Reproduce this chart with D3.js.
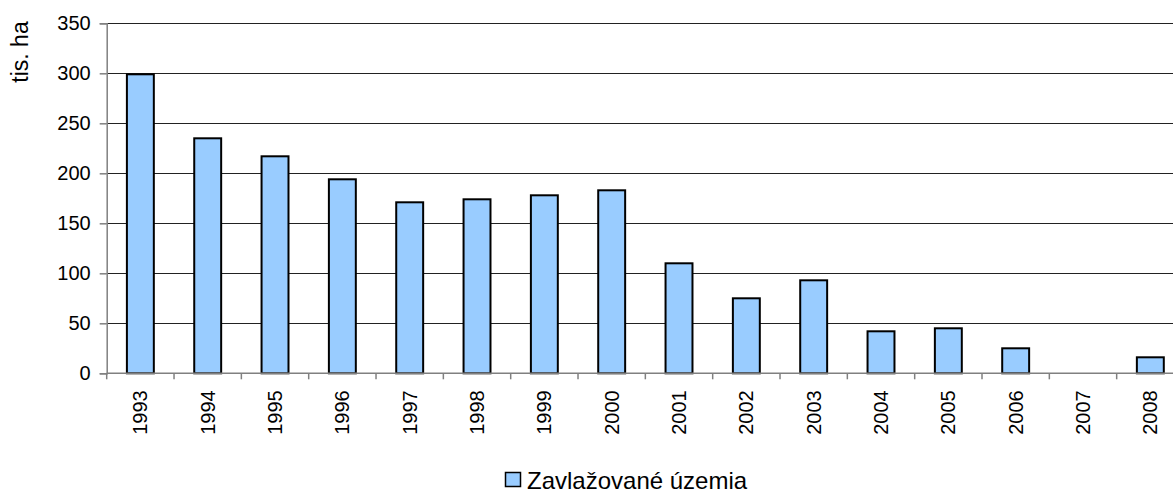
<!DOCTYPE html>
<html>
<head>
<meta charset="utf-8">
<script src="https://cdn.jsdelivr.net/npm/d3@7"></script>
<style>
  body { margin: 0; background: #fff; }
  svg { display: block; font-family: "Liberation Sans", Arial, sans-serif; }
</style>
</head>
<body>
<div id="chart"></div>
<script>
const years = ['1993', '1994', '1995', '1996', '1997', '1998', '1999', '2000',
               '2001', '2002', '2003', '2004', '2005', '2006', '2007', '2008'];
const irrigated = [299, 235, 217, 194, 171, 174, 178, 183, 110, 75, 93, 42, 45, 25, 0, 16];
const yTicks = [0, 50, 100, 150, 200, 250, 300, 350];
const seriesName = 'Zavlažované územia';
const yTitle = 'tis. ha';

const width = 1173, height = 490;
const margin = { top: 23.3, right: -11, bottom: 116.7, left: 106.7 };

const svg = d3.select('#chart').append('svg')
    .attr('width', width)
    .attr('height', height);

const x = d3.scaleBand()
    .domain(years)
    .range([margin.left, width - margin.right])
    .paddingInner(0.6)
    .paddingOuter(0.3);

const y = d3.scaleLinear()
    .domain([0, 350])
    .range([height - margin.bottom, margin.top]);

// gridlines
svg.append('g')
    .selectAll('line')
    .data(yTicks.slice(1))
    .join('line')
    .attr('x1', margin.left)
    .attr('x2', width - margin.right)
    .attr('y1', d => Math.round(y(d)) + 0.5)
    .attr('y2', d => Math.round(y(d)) + 0.5)
    .attr('stroke', '#222')
    .attr('stroke-width', 1);

// bars
svg.append('g')
    .selectAll('rect')
    .data(irrigated.map((v, i) => [years[i], v]).filter(d => d[1] > 0))
    .join('rect')
    .attr('x', d => x(d[0]))
    .attr('y', d => y(d[1]))
    .attr('width', x.bandwidth())
    .attr('height', d => y(0) - y(d[1]))
    .attr('fill', '#99ccff')
    .attr('stroke', '#000')
    .attr('stroke-width', 2);

// y axis
const yAxis = svg.append('g')
    .attr('transform', `translate(${margin.left},0)`)
    .call(d3.axisLeft(y).tickValues(yTicks).tickSize(7).tickPadding(9));
yAxis.select('.domain').attr('stroke', '#808080').attr('stroke-width', 1.5);
yAxis.selectAll('.tick line').attr('stroke', '#808080').attr('stroke-width', 1.5);
yAxis.selectAll('.tick text')
    .attr('font-size', 20)
    .attr('font-family', '"Liberation Sans", Arial, sans-serif')
    .attr('fill', '#000');

// x axis
const xBoundaries = d3.range(years.length + 1).map(i => margin.left + i * x.step());
const xAxis = svg.append('g');
xAxis.append('line')
    .attr('x1', margin.left)
    .attr('x2', width - margin.right)
    .attr('y1', y(0))
    .attr('y2', y(0))
    .attr('stroke', '#808080')
    .attr('stroke-width', 1.5);
xAxis.selectAll('line.tick')
    .data(xBoundaries)
    .join('line')
    .attr('class', 'tick')
    .attr('x1', d => d)
    .attr('x2', d => d)
    .attr('y1', y(0))
    .attr('y2', y(0) + 6)
    .attr('stroke', '#808080')
    .attr('stroke-width', 1.5);
xAxis.selectAll('text')
    .data(years)
    .join('text')
    .attr('transform', d => `translate(${x(d) + x.bandwidth() / 2 + 7},${y(0) + 17}) rotate(-90)`)
    .attr('text-anchor', 'end')
    .attr('font-size', 20)
    .attr('fill', '#000')
    .text(d => d);

// y title
svg.append('text')
    .attr('transform', 'translate(28,52) rotate(-90)')
    .attr('text-anchor', 'middle')
    .attr('font-size', 23)
    .attr('fill', '#000')
    .text(yTitle);

// legend
const legend = svg.append('g').attr('transform', 'translate(505,472)');
legend.append('rect')
    .attr('x', 0.5)
    .attr('y', 0.5)
    .attr('width', 15)
    .attr('height', 14)
    .attr('fill', '#99ccff')
    .attr('stroke', '#000')
    .attr('stroke-width', 1.5);
legend.append('text')
    .attr('x', 22)
    .attr('y', 17)
    .attr('font-size', 24)
    .attr('fill', '#000')
    .text(seriesName);
</script>
</body>
</html>
